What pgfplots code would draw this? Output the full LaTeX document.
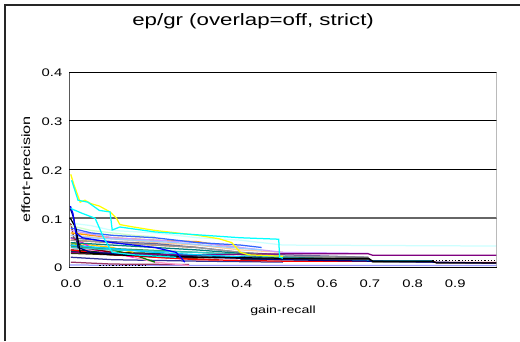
\documentclass[border=0pt]{standalone}
\usepackage{fontspec}
\setmainfont{Liberation Sans}[FakeStretch=1.35]
\usepackage{pgfplots}
\pgfplotsset{compat=1.18}
\definecolor{cnavy}{HTML}{000080}
\definecolor{cmag}{HTML}{FF00FF}
\definecolor{cyel}{HTML}{FFFF00}
\definecolor{ccyan}{HTML}{00FFFF}
\definecolor{cpurp}{HTML}{800080}
\definecolor{cmar}{HTML}{800000}
\definecolor{cteal}{HTML}{008080}
\definecolor{cblue}{HTML}{0000FF}
\definecolor{csky}{HTML}{00CCFF}
\definecolor{clcyan}{HTML}{CCFFFF}
\definecolor{clgreen}{HTML}{CCFFCC}
\definecolor{clyel}{HTML}{FFFF99}
\definecolor{cpblue}{HTML}{99CCFF}
\definecolor{crose}{HTML}{FF99CC}
\definecolor{clav}{HTML}{CC99FF}
\definecolor{ctan}{HTML}{FFCC99}
\definecolor{croyal}{HTML}{3366FF}
\definecolor{caqua}{HTML}{33CCCC}
\definecolor{clime}{HTML}{99CC00}
\definecolor{cgold}{HTML}{FFCC00}
\definecolor{corange}{HTML}{FF9900}
\definecolor{cdorange}{HTML}{FF6600}
\definecolor{cbgray}{HTML}{666699}
\definecolor{cgray}{HTML}{969696}
\definecolor{cdteal}{HTML}{003366}
\definecolor{csea}{HTML}{339966}
\definecolor{cdgreen}{HTML}{003300}
\definecolor{colive}{HTML}{333300}
\definecolor{cbrown}{HTML}{993300}
\definecolor{cplum}{HTML}{993366}
\definecolor{cindigo}{HTML}{333399}
\definecolor{cgr80}{HTML}{333333}
\definecolor{cred}{HTML}{FF0000}
\definecolor{cgreen}{HTML}{008000}
\definecolor{cbottom}{HTML}{9999FF}
\begin{document}
\begin{tikzpicture}
\useasboundingbox (0,0) rectangle (520pt,341pt);
\fill[white] (0,0) rectangle (520pt,341pt);
\draw[line width=1.5pt, black!85] (5pt,0) -- (5pt,336pt) -- (520pt,336pt);
\begin{axis}[
  at={(69.5pt,74pt)}, anchor=south west,
  scale only axis, width=427pt, height=195pt,
  xmin=0, xmax=1, ymin=0, ymax=0.4,
  axis line style={draw=none},
  major tick length=0pt,
  xtick={0,0.1,0.2,0.3,0.4,0.5,0.6,0.7,0.8,0.9},
  xticklabels={0.0,0.1,0.2,0.3,0.4,0.5,0.6,0.7,0.8,0.9},
  ytick={0,0.1,0.2,0.3,0.4},
  yticklabels={0,0.1,0.2,0.3,0.4},
  ymajorgrids, major grid style={black, line width=0.9pt},
  xticklabel style={font=\fontsize{11}{12}\selectfont, anchor=center, yshift=-17pt, xshift=1.5pt},
  yticklabel style={font=\fontsize{11}{12}\selectfont, anchor=east, inner sep=0pt, xshift=-7pt, yshift=-1pt},
  title={ep/gr (overlap=off, strict)},
  title style={font=\fontsize{16.5}{18}\selectfont, at={(axis description cs:0.43,1.231)}, anchor=center},
  xlabel={gain-recall},
  xlabel style={font=\fontsize{10.5}{12}\selectfont, at={(axis description cs:0.5,-0.2256)}, anchor=center},
  ylabel={effort-precision},
  ylabel style={font=\fontsize{12}{13}\selectfont, at={(axis description cs:-0.0995,0.5)}, anchor=center, rotate=0},
  clip=true,
  every axis plot/.append style={line width=1.25pt, no marks},
]
\draw[black!60, line width=2pt] (axis cs:0,0.1) -- (axis cs:1,0.1);
% series
\addplot[cbottom] coordinates {(0,0.004)(0.3,0.003)(1,0.003)};
\addplot[cplum] coordinates {(0.003,0.010)(0.05,0.008)(0.1,0.006)(0.28,0.005)};
\addplot[cindigo] coordinates {(0.003,0.020)(0.1,0.015)(0.3,0.012)(0.5,0.010)};
\addplot[colive] coordinates {(0.003,0.028)(0.1,0.025)(0.3,0.020)};
\addplot[cdgreen] coordinates {(0.003,0.035)(0.1,0.030)(0.2,0.028)(0.3,0.020)};
\addplot[cbrown] coordinates {(0.003,0.045)(0.1,0.030)(0.2,0.020)(0.35,0.015)};
\addplot[crose] coordinates {(0.003,0.040)(0.05,0.035)(0.1,0.030)(0.2,0.010)(0.28,0.003)};
\addplot[cgold] coordinates {(0.003,0.050)(0.05,0.045)(0.1,0.040)(0.15,0.030)};
\addplot[clime] coordinates {(0.003,0.050)(0.02,0.045)(0.05,0.040)(0.12,0.036)};
\addplot[cgreen] coordinates {(0.003,0.045)(0.05,0.040)(0.1,0.035)(0.15,0.025)(0.2,0.010)};
\addplot[cmag] coordinates {(0.003,0.060)(0.03,0.050)(0.06,0.035)(0.1,0.030)(0.15,0.020)};
\addplot[cmar] coordinates {(0.003,0.090)(0.01,0.060)(0.03,0.040)(0.1,0.030)(0.2,0.025)};
\addplot[cdorange] coordinates {(0.003,0.055)(0.1,0.050)(0.2,0.045)(0.3,0.040)};
\addplot[clyel] coordinates {(0.003,0.070)(0.1,0.065)(0.2,0.060)};
\addplot[clgreen] coordinates {(0.003,0.085)(0.05,0.075)(0.1,0.070)(0.15,0.065)(0.2,0.062)};
\addplot[corange] coordinates {(0.003,0.070)(0.05,0.065)(0.1,0.060)(0.2,0.055)(0.3,0.052)(0.35,0.045)(0.4,0.040)};
\addplot[ctan] coordinates {(0.003,0.065)(0.1,0.058)(0.2,0.050)(0.3,0.045)(0.4,0.035)(0.5,0.030)};
\addplot[clav] coordinates {(0.003,0.075)(0.1,0.060)(0.2,0.055)(0.3,0.050)(0.4,0.040)(0.5,0.030)(0.7,0.028)};
\addplot[cpblue] coordinates {(0.003,0.065)(0.05,0.060)(0.15,0.055)(0.25,0.050)(0.35,0.042)(0.45,0.035)};
\addplot[cbgray] coordinates {(0.003,0.060)(0.1,0.052)(0.2,0.048)(0.3,0.040)(0.4,0.030)(0.5,0.025)(0.7,0.020)};
\addplot[cgray] coordinates {(0.003,0.055)(0.1,0.050)(0.2,0.045)(0.3,0.040)(0.4,0.030)(0.5,0.022)(0.7,0.020)};
\addplot[cteal] coordinates {(0.003,0.050)(0.1,0.045)(0.2,0.040)(0.3,0.035)(0.4,0.028)(0.5,0.020)(0.7,0.015)};
\addplot[csea] coordinates {(0.003,0.042)(0.1,0.038)(0.25,0.032)(0.4,0.026)(0.5,0.018)};
\addplot[caqua] coordinates {(0.003,0.040)(0.1,0.035)(0.3,0.030)(0.5,0.020)(0.7,0.013)(0.85,0.013)};
\addplot[cdteal] coordinates {(0.003,0.032)(0.1,0.028)(0.25,0.024)(0.45,0.020)};
\addplot[cred] coordinates {(0.003,0.035)(0.05,0.030)(0.1,0.025)(0.3,0.015)(0.5,0.012)(0.85,0.012)(0.86,0.009)(1,0.009)};
\addplot[cpurp] coordinates {(0.003,0.030)(0.1,0.027)(0.3,0.025)(0.5,0.027)(0.7,0.027)(0.71,0.024)(1,0.024)};
\addplot[csky] coordinates {(0.003,0.045)(0.2,0.030)(0.5,0.016)(0.7,0.013)(0.85,0.013)};
\addplot[cgr80, line width=1.8pt] coordinates {(0.4,0.016)(0.5,0.016)(0.7,0.016)(0.71,0.011)(0.85,0.011)};
\addplot[croyal] coordinates {(0.003,0.080)(0.05,0.070)(0.1,0.065)(0.2,0.060)(0.3,0.050)(0.4,0.045)(0.45,0.040)};
\addplot[clcyan] coordinates {(0.003,0.090)(0.05,0.085)(0.1,0.075)(0.2,0.070)(0.3,0.060)(0.4,0.055)(0.5,0.045)(1,0.043)};
\addplot[cnavy] coordinates {(0.002,0.120)(0.01,0.100)(0.02,0.040)(0.05,0.030)(0.2,0.022)(0.4,0.018)(0.5,0.015)(0.7,0.012)(1,0.008)};
\addplot[black] coordinates {(0.002,0.100)(0.015,0.080)(0.025,0.030)(0.1,0.025)(0.3,0.020)(0.5,0.018)(0.7,0.018)(0.71,0.012)(0.85,0.012)(0.86,0.008)(1,0.008)};
\addplot[cblue] coordinates {(0.002,0.125)(0.008,0.110)(0.015,0.070)(0.03,0.060)(0.1,0.050)(0.2,0.040)(0.25,0.030)(0.27,0.010)};
\addplot[ccyan] coordinates {(0.003,0.120)(0.03,0.110)(0.06,0.100)(0.08,0.060)(0.1,0.030)(0.15,0.025)(0.25,0.020)};
\addplot[black, dotted] coordinates {(0.07,0.003)(0.18,0.003)};
\addplot[black, dotted] coordinates {(0.85,0.014)(1,0.014)};
\addplot[cyel] coordinates {(0.003,0.190)(0.01,0.170)(0.025,0.133)(0.036,0.137)(0.05,0.130)(0.07,0.125)(0.095,0.113)(0.11,0.100)(0.118,0.087)(0.15,0.082)(0.2,0.075)(0.25,0.070)(0.3,0.065)(0.35,0.058)(0.38,0.050)(0.4,0.030)(0.42,0.025)(0.5,0.022)};
\addplot[ccyan] coordinates {(0.005,0.178)(0.02,0.137)(0.043,0.133)(0.07,0.116)(0.095,0.113)(0.10,0.076)(0.118,0.082)(0.2,0.072)(0.3,0.066)(0.4,0.060)(0.49,0.057)(0.492,0.020)(0.5,0.018)};
\draw[black, line width=0.9pt] (axis cs:0,0.4) -- (axis cs:0,0) -- (axis cs:1,0);
\draw[cgray, line width=0.9pt] (axis cs:1,0) -- (axis cs:1,0.4);
\end{axis}
\end{tikzpicture}
\end{document}
